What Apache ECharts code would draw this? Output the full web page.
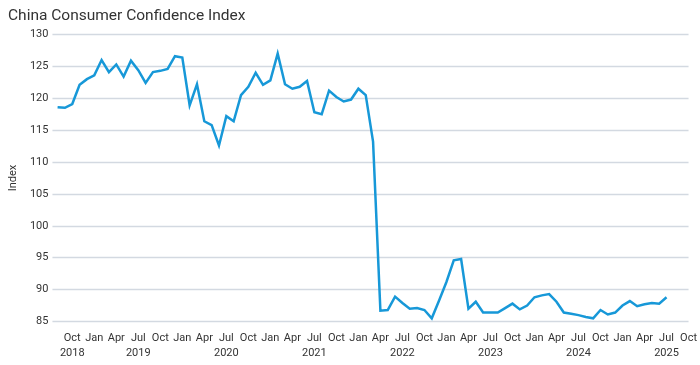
<!DOCTYPE html>
<html>
<head>
<meta charset="utf-8">
<script src="https://cdn.jsdelivr.net/npm/echarts@6/dist/echarts.min.js"></script>
<style>
html,body{margin:0;padding:0;background:#fff;}
#chart{width:700px;height:365px;}
</style>
</head>
<body>
<div id="chart"></div>
<script>
// Monthly categories (Aug 2018 – Jul 2025) and the axis extension to Oct 2025
const months = [
  '2018-08','2018-09','2018-10','2018-11','2018-12',
  '2019-01','2019-02','2019-03','2019-04','2019-05','2019-06','2019-07','2019-08','2019-09','2019-10','2019-11','2019-12',
  '2020-01','2020-02','2020-03','2020-04','2020-05','2020-06','2020-07','2020-08','2020-09','2020-10','2020-11','2020-12',
  '2021-01','2021-02','2021-03','2021-04','2021-05','2021-06','2021-07','2021-08','2021-09','2021-10','2021-11','2021-12',
  '2022-01','2022-02','2022-03','2022-04','2022-05','2022-06','2022-07','2022-08','2022-09','2022-10','2022-11','2022-12',
  '2023-01','2023-02','2023-03','2023-04','2023-05','2023-06','2023-07','2023-08','2023-09','2023-10','2023-11','2023-12',
  '2024-01','2024-02','2024-03','2024-04','2024-05','2024-06','2024-07','2024-08','2024-09','2024-10','2024-11','2024-12',
  '2025-01','2025-02','2025-03','2025-04','2025-05','2025-06','2025-07'
];
const axisExtraMonths = ['2025-08','2025-09','2025-10'];

const confidenceIndex = [
  118.6,118.5,119.1,122.1,123.0,
  123.6,126.0,124.1,125.3,123.4,125.9,124.4,122.4,124.1,124.3,124.6,126.6,
  126.4,118.9,122.2,116.4,115.8,112.6,117.2,116.4,120.5,121.8,124.0,122.1,
  122.8,127.0,122.2,121.5,121.8,122.7,117.8,117.5,121.2,120.2,119.5,119.8,
  121.5,120.5,113.2,86.7,86.8,88.9,87.9,87.0,87.1,86.8,85.5,88.3,
  91.2,94.6,94.8,87.0,88.1,86.4,86.4,86.4,87.1,87.8,86.9,87.5,
  88.8,89.1,89.3,88.1,86.4,86.2,86.0,85.7,85.5,86.8,86.1,86.4,
  87.5,88.2,87.4,87.7,87.9,87.8,88.8
];

const monthNames = ['Jan','Feb','Mar','Apr','May','Jun','Jul','Aug','Sep','Oct','Nov','Dec'];

const axisMonths = months.concat(axisExtraMonths);
const tickIdx = [];
axisMonths.forEach((m, i) => {
  const mo = parseInt(m.slice(5), 10);
  if (mo === 1 || mo === 4 || mo === 7 || mo === 10) tickIdx.push(i);
});
const firstTick = tickIdx[0];
function tickLabel(v) {
  const i = Math.round(v);
  const m = axisMonths[i];
  if (!m) return '';
  const y = m.slice(0, 4);
  const mo = parseInt(m.slice(5), 10);
  const name = monthNames[mo - 1];
  if (i === firstTick || mo === 7) return name + '\n' + y;
  return name;
}

const seriesData = confidenceIndex.map((v, i) => [i, v]);
const FONT = 'Roboto, "Liberation Sans", sans-serif';

const chart = echarts.init(document.getElementById('chart'), null, {renderer: 'canvas'});
chart.setOption({
  animation: false,
  backgroundColor: '#ffffff',
  title: {
    text: 'China Consumer Confidence Index',
    left: 3, top: 3,
    textStyle: {fontFamily: FONT, fontSize: 15.5, fontWeight: 'normal', color: '#333333'}
  },
  grid: {left: 38, right: 9, top: 34.5, bottom: 43.5, containLabel: false},
  xAxis: {
    type: 'value',
    min: -0.7, max: 86,
    axisLine: {show: false},
    axisTick: {show: false},
    splitLine: {show: false},
    axisLabel: {
      customValues: tickIdx,
      formatter: tickLabel,
      fontFamily: FONT, fontSize: 11, color: '#333333',
      lineHeight: 15, margin: 9
    }
  },
  yAxis: {
    type: 'value',
    min: 85, max: 130, interval: 5,
    name: 'Index',
    nameLocation: 'middle',
    nameGap: 27,
    nameRotate: 90,
    nameTextStyle: {fontFamily: FONT, fontSize: 11, color: '#333333'},
    axisLine: {show: false},
    axisTick: {show: false},
    axisLabel: {fontFamily: FONT, fontSize: 11, color: '#333333', margin: 4},
    splitLine: {lineStyle: {color: '#d3d9e1', width: 1.3}}
  },
  series: [{
    type: 'line',
    data: seriesData,
    showSymbol: false,
    symbol: 'none',
    lineStyle: {color: '#1798d8', width: 2.5, join: 'miter'},
    itemStyle: {color: '#1798d8'}
  }]
});
</script>
</body>
</html>
